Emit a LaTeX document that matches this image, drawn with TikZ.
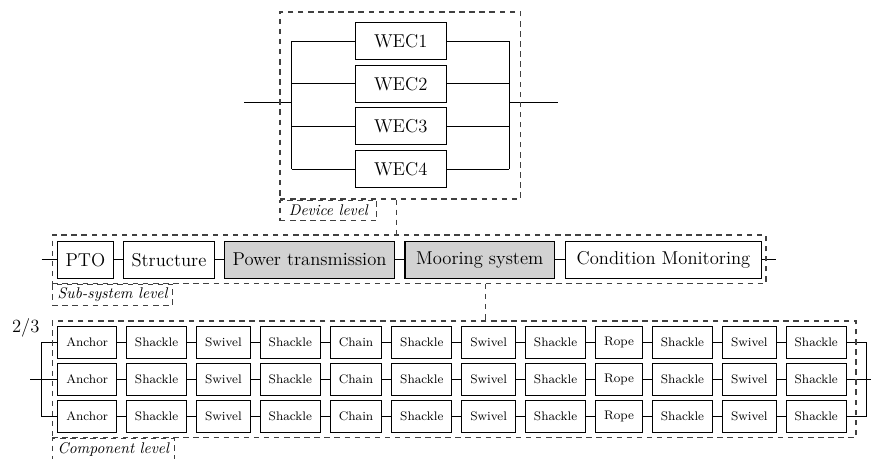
\documentclass[12pt,tikz,border=0pt]{standalone}
\usetikzlibrary{positioning,fit}

\tikzset{
  wire/.style={line width=0.6pt},
  wecbox/.style={draw, line width=0.7pt, minimum width=58.7pt, minimum height=23.9pt},
  subbox/.style={draw, line width=0.7pt, inner xsep=5pt, minimum height=24pt},
  compbox/.style={draw, line width=0.7pt, inner xsep=5.45pt, minimum height=20.6pt, font=\scriptsize},
  levelframe/.style={draw=black!75, dash pattern=on 3.5pt off 3pt, line width=0.7pt, inner sep=0pt},
  levellabel/.style={levelframe, anchor=north west, inner xsep=3.5pt, minimum height=13.4pt, font=\footnotesize\itshape},
  levellink/.style={draw=black!75, dash pattern=on 3.5pt off 3pt, line width=0.7pt},
}

\begin{document}
\begin{tikzpicture}[x=0.645pt, y=-0.645pt]
\useasboundingbox (0,0) rectangle (871,458);

% device level
\foreach \n/\y in {1/41,2/83.7,3/126.3,4/169}
  \node[wecbox] (wec\n) at (400.7,\y) {WEC\n};
\coordinate (din) at (244,102.5);
\coordinate (dl) at (291.7,102.5);
\coordinate (dr) at (509.3,102.5);
\coordinate (dout) at (558.3,102.5);
\foreach \n in {1,...,4}
  \draw[wire] (wec\n.west -| dl) -- (wec\n.west) (wec\n.east) -- (wec\n.east -| dr);
\draw[wire] (wec1.west -| dl) -- (wec4.west -| dl) (wec1.east -| dr) -- (wec4.east -| dr);
\draw[wire] (din) -- (dl) (dr) -- (dout);
\node[levelframe, fit={(280,12) (520.7,199)}] (devframe) {};
\node[levellabel, minimum width=62.4pt] (devlabel) at (devframe.south west) {Device level};

% sub-system level
\node[subbox, anchor=west] (pto) at (57.3,259.7) {PTO};
\node[subbox, right=6.2pt of pto] (struct) {Structure};
\node[subbox, fill=gray!35, right=6.2pt of struct] (power) {Power transmission};
\node[subbox, fill=gray!35, right=6.2pt of power, minimum width=96.4pt] (moor) {Mooring system};
\node[subbox, right=6.2pt of moor, minimum width=126.9pt] (cond) {Condition Monitoring};
\coordinate (sin) at (41.7,259.7);
\coordinate (sout) at (776,259.7);
\draw[wire] (sin) -- (pto) (pto) -- (struct) (struct) -- (power) (power) -- (moor) (moor) -- (cond) (cond) -- (sout);
\node[levelframe, fit={(52.3,235) (766,283.3)}] (subframe) {};
\node[levellabel] (sublabel) at (subframe.south west) {Sub-system level};
\coordinate (devlink) at ([xshift=-2.3pt]devframe.south);
\draw[levellink] (devlink) -- (devlink |- subframe.north);

% component level
\foreach \r/\y in {1/342.5,2/379.5,3/416.5}{
  \node[compbox, anchor=west] (c\r-1) at (57.3,\y) {Anchor};
  \foreach \part [count=\i from 2] in {Shackle,Swivel,Shackle,Chain,Shackle,Swivel,Shackle,Rope,Shackle,Swivel,Shackle}{
    \pgfmathtruncatemacro\j{\i-1}
    \node[compbox, right=5.8pt of c\r-\j] (c\r-\i) {\part};
    \draw[wire] (c\r-\j) -- (c\r-\i);
  }
}
\coordinate (cin) at (30,379.5);
\coordinate (cl) at (41,379.5);
\coordinate (cr) at (866.7,379.5);
\coordinate (cout) at (871,379.5);
\draw[wire] (c1-1.west) -- (c1-1.west -| cl) -- (c3-1.west -| cl) -- (c3-1.west);
\draw[wire] (cin) -- (c2-1.west);
\draw[wire] (c1-12.east) -- (c1-12.east -| cr) -- (c3-12.east -| cr) -- (c3-12.east);
\draw[wire] (c2-12.east) -- (cout);
\node (vote) at (25.8,328) {$2/3$};
\node[levelframe, fit={(52.3,321) (856,437.7)}] (compframe) {};
\node[levellabel] (complabel) at (compframe.south west) {Component level};
\coordinate (moorlink) at ([xshift=4pt]moor.south);
\draw[levellink] (moorlink |- subframe.south) -- (moorlink |- compframe.north);

\end{tikzpicture}
\end{document}
